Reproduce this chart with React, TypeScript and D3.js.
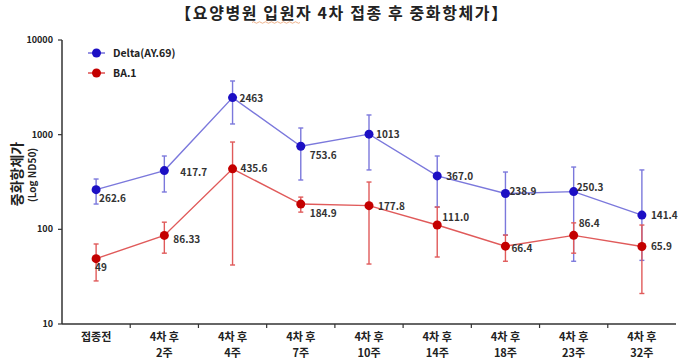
import React from 'react';
import * as d3 from 'd3';

// Categories and values
const categories = ['접종전', '4차 후\n2주', '4차 후\n4주', '4차 후\n7주', '4차 후\n10주', '4차 후\n14주', '4차 후\n18주', '4차 후\n23주', '4차 후\n32주'];
const deltaValues = [262.6, 417.7, 2463, 753.6, 1013, 367.0, 238.9, 250.3, 141.4];
const deltaLabels = ['262.6', '417.7', '2463', '753.6', '1013', '367.0', '238.9', '250.3', '141.4'];
const deltaUpper = [340, 595, 3690, 1176, 1614, 595, 403, 455, 424];
const deltaLower = [185, 248, 1297, 332, 424, 172, 87, 46, 47];
const ba1Values = [49, 86.33, 435.6, 184.9, 177.8, 111.0, 66.4, 86.4, 65.9];
const ba1Labels = ['49', '86.33', '435.6', '184.9', '177.8', '111.0', '66.4', '86.4', '65.9'];
const ba1Upper = [70, 119, 836, 219, 316, 172, 87, 117, 111];
const ba1Lower = [28.5, 56, 42, 152, 43, 51, 46, 56, 21];
const yTicks = [10, 100, 1000, 10000];

// label offsets (px) relative to each point
const deltaLabelOffset: [number, number][] = [[3, 12], [16, 5], [7, 4], [9, 13], [7, 4], [9, 4], [4, 1], [3, -1], [9, 4]];
const ba1LabelOffset: [number, number][] = [[-1, 12], [9, 8], [8, 3], [9, 13], [9, 4], [5, -4], [6, 6], [5, -8], [9, 4]];

const W = 680;
const H = 362;
const margin = { top: 40, left: 62, right: 4, bottom: 38 };

const DELTA_LINE = '#7b78dc';
const DELTA_DOT = '#1c0fc4';
const BA1_LINE = '#e05a5a';
const BA1_DOT = '#c40000';
const FONT = '"Noto Sans CJK KR", "Noto Sans", sans-serif';

const App = () => {
  const x = d3.scaleBand<string>()
    .domain(categories)
    .range([margin.left, W - margin.right]);
  const y = d3.scaleLog()
    .domain([10, 10000])
    .range([H - margin.bottom, margin.top]);

  const cx = (i: number) => (x(categories[i]) as number) + x.bandwidth() / 2;

  const line = d3.line<number>()
    .x((_, i) => cx(i))
    .y(d => y(d));

  const series = [
    { name: 'Delta(AY.69)', values: deltaValues, labels: deltaLabels, upper: deltaUpper, lower: deltaLower, offs: deltaLabelOffset, lineColor: DELTA_LINE, dotColor: DELTA_DOT },
    { name: 'BA.1', values: ba1Values, labels: ba1Labels, upper: ba1Upper, lower: ba1Lower, offs: ba1LabelOffset, lineColor: BA1_LINE, dotColor: BA1_DOT },
  ];

  const y0 = H - margin.bottom;

  // spell-check squiggle under "입원자"
  const squiggle = 'M252,22.5 q1.5,-1.5 3,0' + ' t3,0'.repeat(15);

  return (
    <svg width={W} height={H} style={{ position: 'absolute', left: 0, top: 0, background: '#fff' }} fontFamily={FONT}>
      {/* Title */}
      <text x={W / 2 + 2} y={19} textAnchor="middle" fontSize={16} fontWeight="bold" letterSpacing={1.6} fill="#222">
        【요양병원 입원자 4차 접종 후 중화항체가】
      </text>
      <path d={squiggle} fill="none" stroke="#e8a070" strokeWidth={0.8} />

      {/* Y axis */}
      <line x1={margin.left} x2={margin.left} y1={margin.top} y2={y0} stroke="#333" strokeWidth={1.5} />
      {yTicks.map(t => (
        <g key={t} transform={`translate(${margin.left},${y(t)})`}>
          <line x1={-4} x2={0} stroke="#333" strokeWidth={1.2} />
          <text x={-9} dy="0.35em" textAnchor="end" fontSize={9} fontWeight="bold" fill="#222">{t}</text>
        </g>
      ))}
      <text transform={`translate(22,174) rotate(-90)`} textAnchor="middle" fontSize={14} fontWeight="bold" fill="#222">중화항체가</text>
      <text transform={`translate(36,175) rotate(-90)`} textAnchor="middle" fontSize={10} fontWeight="bold" fill="#222">(Log ND50)</text>

      {/* X axis */}
      <line x1={margin.left} x2={W - margin.right} y1={y0} y2={y0} stroke="#333" strokeWidth={1.5} />
      {categories.map((c, i) => (
        <g key={c}>
          {i > 0 && <line x1={x(c)} x2={x(c)} y1={y0} y2={y0 + 4} stroke="#333" strokeWidth={1.2} />}
          {c.split('\n').map((part, j) => (
            <text key={j} x={cx(i)} y={y0 + 17 + j * 16} textAnchor="middle" fontSize={11} fontWeight="bold" fill="#222">{part}</text>
          ))}
        </g>
      ))}

      {/* Series: lines, error bars, points */}
      {series.map(s => (
        <g key={s.name}>
          <path d={line(s.values) ?? ''} fill="none" stroke={s.lineColor} strokeWidth={1.4} />
          {s.values.map((v, i) => (
            <g key={i} stroke={s.lineColor} strokeWidth={1.4}>
              <line x1={cx(i)} x2={cx(i)} y1={y(s.upper[i])} y2={y(s.lower[i])} />
              <line x1={cx(i) - 2.5} x2={cx(i) + 2.5} y1={y(s.upper[i])} y2={y(s.upper[i])} />
              <line x1={cx(i) - 2.5} x2={cx(i) + 2.5} y1={y(s.lower[i])} y2={y(s.lower[i])} />
            </g>
          ))}
          {s.values.map((v, i) => (
            <circle key={i} cx={cx(i)} cy={y(v)} r={4.5} fill={s.dotColor} />
          ))}
        </g>
      ))}

      {/* Value labels */}
      {series.map(s => (
        <g key={s.name + 'lab'}>
          {s.values.map((v, i) => (
            <text key={i} x={cx(i) + s.offs[i][0]} y={y(v) + s.offs[i][1]} fontSize={10} fontWeight="bold" fill="#333">{s.labels[i]}</text>
          ))}
        </g>
      ))}

      {/* Legend */}
      {series.map((s, k) => (
        <g key={s.name + 'leg'} transform={`translate(88,${53 + k * 20})`}>
          <line x1={0} x2={17} stroke={s.lineColor} strokeWidth={1.6} />
          <circle cx={8.5} cy={0} r={4.5} fill={s.dotColor} />
          <text x={25} dy="0.35em" fontSize={10.5} fontWeight="bold" fill="#222">{s.name}</text>
        </g>
      ))}
    </svg>
  );
};

export default App;
